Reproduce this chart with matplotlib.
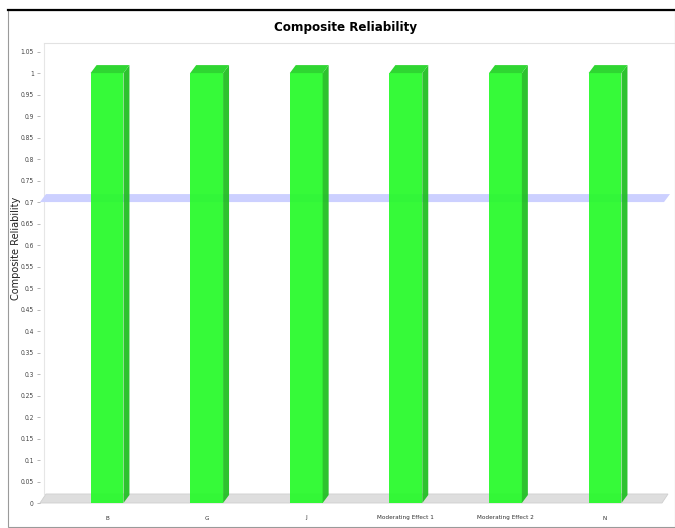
import numpy as np
import matplotlib
matplotlib.use('Agg')
import matplotlib.pyplot as plt
from matplotlib.patches import Polygon, Rectangle
from matplotlib.lines import Line2D

# composite reliability per construct, with the usual 0.7 cut-off
categories = ['B', 'G', 'J', 'Moderating Effect 1', 'Moderating Effect 2', 'N']
values = [1.0, 1.0, 1.0, 1.0, 1.0, 1.0]
threshold = 0.7
yticks = np.arange(0, 1.051, 0.05)

narrow = dict(family='DejaVu Sans', stretch='condensed')

W, H = 675, 528
fig = plt.figure(figsize=(W / 100, H / 100), dpi=100)

# frame round the whole chart
fig.add_artist(Rectangle((8 / W, 1 / H), (W - 8) / W, (H - 11) / H, transform=fig.transFigure,
                         fill=False, edgecolor='#9a9a9a', lw=0.8))
fig.add_artist(Line2D([8 / W, 1], [1 - 10 / H, 1 - 10 / H], transform=fig.transFigure,
                      color='black', lw=1.6))
fig.add_artist(Line2D([44 / W, 1], [1 - 43 / H, 1 - 43 / H], transform=fig.transFigure,
                      color='#e2e2e2', lw=0.8))

fig.text(345 / W, 1 - 28 / H, 'Composite Reliability', ha='center', va='center',
         fontsize=9.5, fontweight='bold', **narrow)

ax = fig.add_axes([40 / W, 25 / H, 630 / W, 460 / H])
xmin, xmax = -0.673, 5.652
ax.set_xlim(xmin, xmax)
ax.set_ylim(0, 1.07)
for s in ax.spines.values():
    s.set_visible(False)

dx, dy = 0.06, 0.0186   # depth offset for the 3d look
bw = 0.33
x = np.arange(len(categories))

# floor slab
ax.add_patch(Polygon([(xmin, 0), (xmax - dx - 0.02, 0), (xmax - 0.02, 0.021), (xmin + dx, 0.021)],
                     closed=True, facecolor='#dedede', edgecolor='#cfcfcf', lw=0.6, zorder=1, clip_on=False))
# back wall edge
ax.plot([xmin + dx * 0.6, xmin + dx * 0.6], [0.021, 1.07], color='#e6e6e6', lw=0.8, zorder=0)

# threshold plane
ax.add_patch(Polygon([(xmin, threshold), (xmax - dx, threshold), (xmax, threshold + dy),
                      (xmin + dx, threshold + dy)], closed=True, facecolor='#ccd0ff',
                     edgecolor='none', zorder=2, clip_on=False))

# bars: front face, right side, top
ax.bar(x, values, width=bw, color='#26fa2a', edgecolor='none', alpha=0.93, zorder=3)
for xi, v in zip(x, values):
    r = xi + bw / 2
    ax.add_patch(Polygon([(r, 0), (r + dx, dy), (r + dx, v + dy), (r, v)], closed=True,
                         facecolor='#22bf24', edgecolor='none', alpha=0.95, zorder=3))
    l = xi - bw / 2
    ax.add_patch(Polygon([(l, v), (r, v), (r + dx, v + dy), (l + dx, v + dy)], closed=True,
                         facecolor='#2fd632', edgecolor='none', zorder=3))

ax.set_xticks(x)
ax.set_xticklabels(categories, fontsize=4.6, color='#333333', **narrow)
ax.tick_params(axis='x', length=0, pad=9)
ax.set_yticks(yticks)
ax.set_yticklabels([f'{v:g}' for v in np.round(yticks, 2)], fontsize=4.8, color='#444444', **narrow)
ax.tick_params(axis='y', length=2.5, width=0.5, color='#999999', pad=2)

fig.text(16 / W, 1 - 248 / H, 'Composite Reliability', rotation=90, ha='center', va='center',
         fontsize=7, family='DejaVu Sans', color='#222222')

fig.savefig('out.png', dpi=100)
